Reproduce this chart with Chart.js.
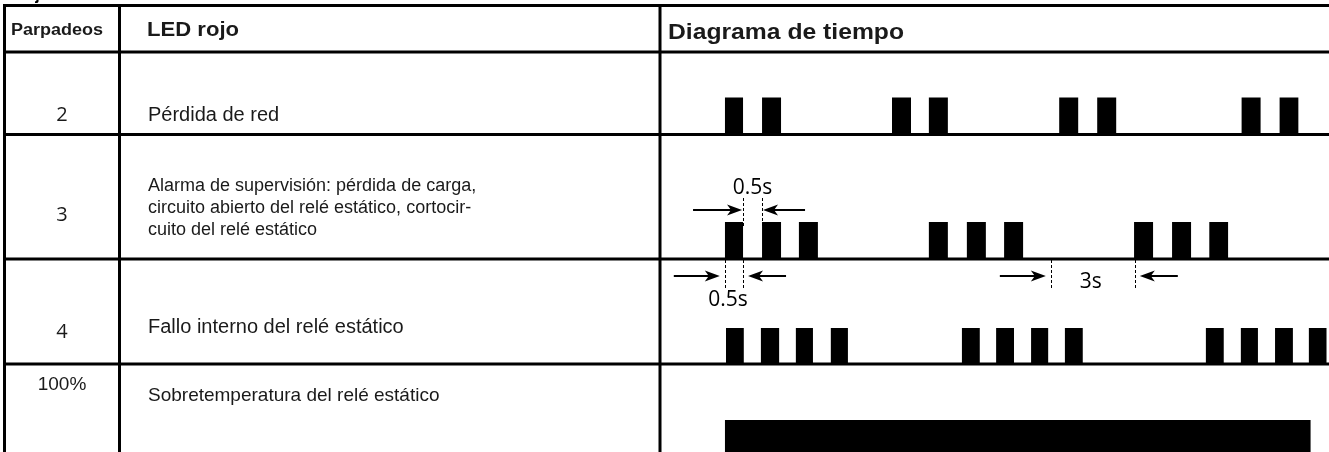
<!DOCTYPE html>
<html><head><meta charset="utf-8">
<script src="https://cdn.jsdelivr.net/npm/chart.js@4.4.0/dist/chart.umd.min.js"></script>
<style>html,body{margin:0;padding:0;background:#fff;overflow:hidden}#wrap{width:1329px;height:452px;position:relative}canvas{display:block}</style>
</head><body><div id="wrap"><canvas id="c" width="1329" height="452"></canvas></div>
<script>
// ---- data ----
const headers = ['Parpadeos', 'LED rojo', 'Diagrama de tiempo'];
const rowCodes = ['2', '3', '4', '100%'];
const rowTexts = [
  ['Pérdida de red'],
  ['Alarma de supervisión: pérdida de carga,', 'circuito abierto del relé estático, cortocir-', 'cuito del relé estático'],
  ['Fallo interno del relé estático'],
  ['Sobretemperatura del relé estático']
];
// LED on intervals [start, end] in seconds
const pulsesRow1 = [[0,0.48],[0.98,1.48],[4.4,4.9],[5.37,5.87],[8.8,9.3],[9.8,10.3],[13.6,14.1],[14.6,15.1]];
const pulsesRow2 = [[0,0.48],[0.98,1.48],[1.95,2.45],[5.37,5.87],[6.37,6.87],[7.35,7.85],[10.77,11.27],[11.77,12.27],[12.75,13.25]];
const pulsesRow3 = [[0.03,0.5],[0.95,1.43],[1.87,2.32],[2.79,3.24],[6.24,6.71],[7.14,7.61],[8.06,8.51],[8.95,9.42],[12.66,13.13],[13.58,14.03],[14.48,14.95],[15.37,15.84]];
const pulsesRow4 = [[0,15.42]];
// dimension annotations (seconds)
const dimLabels = ['0.5s', '0.5s', '3s'];
const dimStart = [0.48, 0, 8.58];
const dimEnd = [0.98, 0.48, 10.79];
const dimRow = [1, 2, 2];

// ---- layout / style ----
const TABLE_TOP = 5.5;
const COL_X = [4.5, 119.5, 660];
const rowWeights = [82.5, 124.5, 105, 88];
const pulseHeights = [37, 37, 36, 32];
const rowIds = ['r1','r2','r3','r4'];
const SANS = '"Liberation Sans", Arial, sans-serif';
const OPEN = '"Open Sans", sans-serif';

function toStep(intervals){
  const pts = [];
  intervals.forEach(([s,e]) => { pts.push({x:s,y:1}); pts.push({x:e,y:0}); });
  return pts;
}
const allPulses = [pulsesRow1, pulsesRow2, pulsesRow3, pulsesRow4];

const datasets = allPulses.map((p,i) => ({
  data: toStep(p), yAxisID: rowIds[i], stepped: 'before',
  fill: 'origin', backgroundColor: '#000', borderWidth: 0, pointRadius: 0, tension: 0
}));

const scales = { x: {type:'linear', min:-1.6, max:15.9, display:false} };
rowIds.forEach((id,i) => {
  scales[id] = {type:'linear', min:0, max: rowWeights[i]/pulseHeights[i], display:false,
    position:'right', stack:'rows', stackWeight: rowWeights[i]};
});

function arrow(ctx, tailX, tipX, y){
  const d = Math.sign(tipX - tailX);
  ctx.lineWidth = 2;
  ctx.beginPath(); ctx.moveTo(tailX, y); ctx.lineTo(tipX - d*8, y); ctx.stroke();
  ctx.beginPath(); ctx.moveTo(tipX, y); ctx.lineTo(tipX - d*15, y-5.5); ctx.lineTo(tipX - d*11, y);
  ctx.lineTo(tipX - d*15, y+5.5); ctx.closePath(); ctx.fill();
}
function dashed(ctx, x, y1, y2){
  ctx.save(); ctx.lineWidth = 1; ctx.setLineDash([3,2]);
  ctx.beginPath(); ctx.moveTo(Math.round(x)+0.5, y1); ctx.lineTo(Math.round(x)+0.5, y2); ctx.stroke(); ctx.restore();
}
// draw text stretched horizontally to a given width
function fitText(ctx, text, x, y, width, align){
  const w = ctx.measureText(text).width;
  const s = width / w;
  ctx.save();
  ctx.textAlign = 'left';
  const left = align === 'center' ? x - width/2 : x;
  ctx.translate(left, y); ctx.scale(s, 1);
  ctx.fillText(text, 0, 0);
  ctx.restore();
}

const tablePlugin = {
  id: 'table',
  afterDraw(chart){
    const ctx = chart.ctx, W = chart.width, H = chart.height;
    const xs = chart.scales.x;
    const rows = rowIds.map(id => chart.scales[id]);
    ctx.save();
    ctx.fillStyle = '#000'; ctx.strokeStyle = '#000';
    // cut-off title fragment
    ctx.font = 'bold 16px ' + SANS; ctx.textBaseline = 'alphabetic'; ctx.textAlign = 'left';
    ctx.fillText('Rojo', 14, 0);
    // lines
    ctx.lineWidth = 3;
    const ys = [TABLE_TOP].concat(rows.map(r => r.top));
    ys.forEach(y => { ctx.beginPath(); ctx.moveTo(COL_X[0]-1.5, y); ctx.lineTo(W, y); ctx.stroke(); });
    COL_X.forEach(x => { ctx.beginPath(); ctx.moveTo(x, TABLE_TOP-1.5); ctx.lineTo(x, H); ctx.stroke(); });
    // headers
    ctx.fillStyle = '#1a1a1a';
    ctx.textBaseline = 'middle';
    const hy = (TABLE_TOP + rows[0].top)/2 + 1;
    ctx.font = 'bold 16px ' + SANS;
    fitText(ctx, headers[0], 57, hy + 1, 92, 'center');
    ctx.font = 'bold 21px ' + SANS;
    fitText(ctx, headers[1], 147, hy, 92, 'left');
    ctx.font = 'bold 22px ' + SANS;
    fitText(ctx, headers[2], 668, hy + 3, 236, 'left');
    // row contents
    const codeY = [115, 215, 332, 385];
    const textY = [[115],[186,208,230],[327],[396]];
    const textSize = [20, 18, 20, 19];
    rowCodes.forEach((c,i) => {
      ctx.textAlign = 'center';
      ctx.font = (i === 3 ? '19px ' + SANS : '20px ' + OPEN);
      ctx.fillText(c, (COL_X[0]+COL_X[1])/2, codeY[i]);
      ctx.textAlign = 'left'; ctx.font = textSize[i] + 'px ' + SANS;
      rowTexts[i].forEach((t,j) => ctx.fillText(t, 148, textY[i][j]));
    });
    // dimension annotations
    ctx.fillStyle = '#000';
    dimLabels.forEach((lab, k) => {
      const r = rows[dimRow[k]];
      const x1 = xs.getPixelForValue(dimStart[k]), x2 = xs.getPixelForValue(dimEnd[k]);
      ctx.font = '21px ' + OPEN; ctx.textAlign = 'center'; ctx.textBaseline = 'middle';
      if (k === 0) {
        const top = r.getPixelForValue(1);
        dashed(ctx, x1, top-24, top+6); dashed(ctx, x2, top-24, top+6);
        arrow(ctx, x1-50, x1-1, top-12); arrow(ctx, x2+43, x2+1, top-12);
        ctx.fillText(lab, (x1+x2)/2, top-34);
      } else {
        const y0 = r.top;
        dashed(ctx, x1, y0+1, y0+31); dashed(ctx, x2, y0+1, y0+31);
        arrow(ctx, x1-51, x1-5, y0+17); arrow(ctx, x2+43, x2+5, y0+17);
        if (k === 1) ctx.fillText(lab, (x1+x2)/2 - 6, y0+41);
        else ctx.fillText(lab, (x1+x2)/2 - 2, y0+23);
      }
    });
    ctx.restore();
  }
};

new Chart(document.getElementById('c'), {
  type: 'line',
  data: { datasets },
  options: {
    responsive: false, animation: false, devicePixelRatio: 1,
    layout: { padding: { top: 52, left: 664, right: 0, bottom: 0 } },
    plugins: { legend: {display:false}, tooltip: {enabled:false}, title: {display:false} },
    scales
  },
  plugins: [tablePlugin]
});
</script></body></html>
